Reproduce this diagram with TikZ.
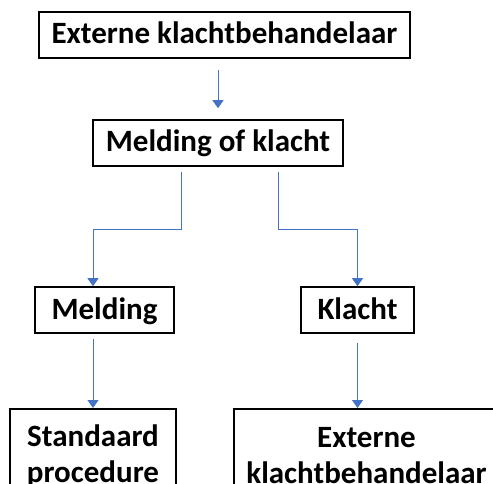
\documentclass[tikz,border=0pt]{standalone}
\usepackage{fontspec}
\setmainfont{Carlito}
\usetikzlibrary{arrows.meta}
\definecolor{linkblue}{RGB}{68,114,196}
\begin{document}
\begin{tikzpicture}[x=1pt, y=-1pt,
    box/.style={draw, line width=1.6pt, minimum height=46pt, inner sep=0pt,
        font=\fontsize{31}{36}\selectfont\bfseries},
    line/.style={text height=22pt, text depth=4pt},
    conn/.style={draw=linkblue, line width=1pt,
        -{Triangle[length=8pt, width=11pt]}}]
    \useasboundingbox (0,0) rectangle (493,484);
    \clip (0,0) rectangle (493,484);
    \node[box, line, minimum width=371pt] (extern) at (224.5,35) {Externe klachtbehandelaar};
    \node[box, line, minimum width=250pt] (keuze) at (218,143) {Melding of klacht};
    \node[box, line, minimum width=139pt] (melding) at (104.5,310) {Melding};
    \node[box, line, minimum width=113pt] (klacht) at (357.5,310) {Klacht};
    \node[box, minimum width=166pt, minimum height=94pt, align=center,
        anchor=north] (standaard) at (93,408) {Standaard\\procedure};
    \node[box, minimum width=265pt, minimum height=94pt, align=center,
        anchor=north] (behandelaar) at (366.5,408) {Externe\\klachtbehandelaar};
    % connectors
    \draw[conn, shorten <=11pt, shorten >=11pt] (extern.south -| keuze.north) -- (keuze.north);
    \draw[conn, shorten <=5pt] (keuze.south) ++(-37,0) coordinate (splitL)
        -- ++(0,63) -| (melding.north -| standaard.north);
    \draw[conn, shorten <=5pt] (keuze.south) ++(60,0) coordinate (splitR)
        -- ++(0,63) -| (klacht.north);
    \draw[conn, shorten <=5pt] (melding.south -| standaard.north) -- (standaard.north);
    \draw[conn, shorten <=9pt] (klacht.south) -- (klacht.south |- behandelaar.north);
\end{tikzpicture}
\end{document}
